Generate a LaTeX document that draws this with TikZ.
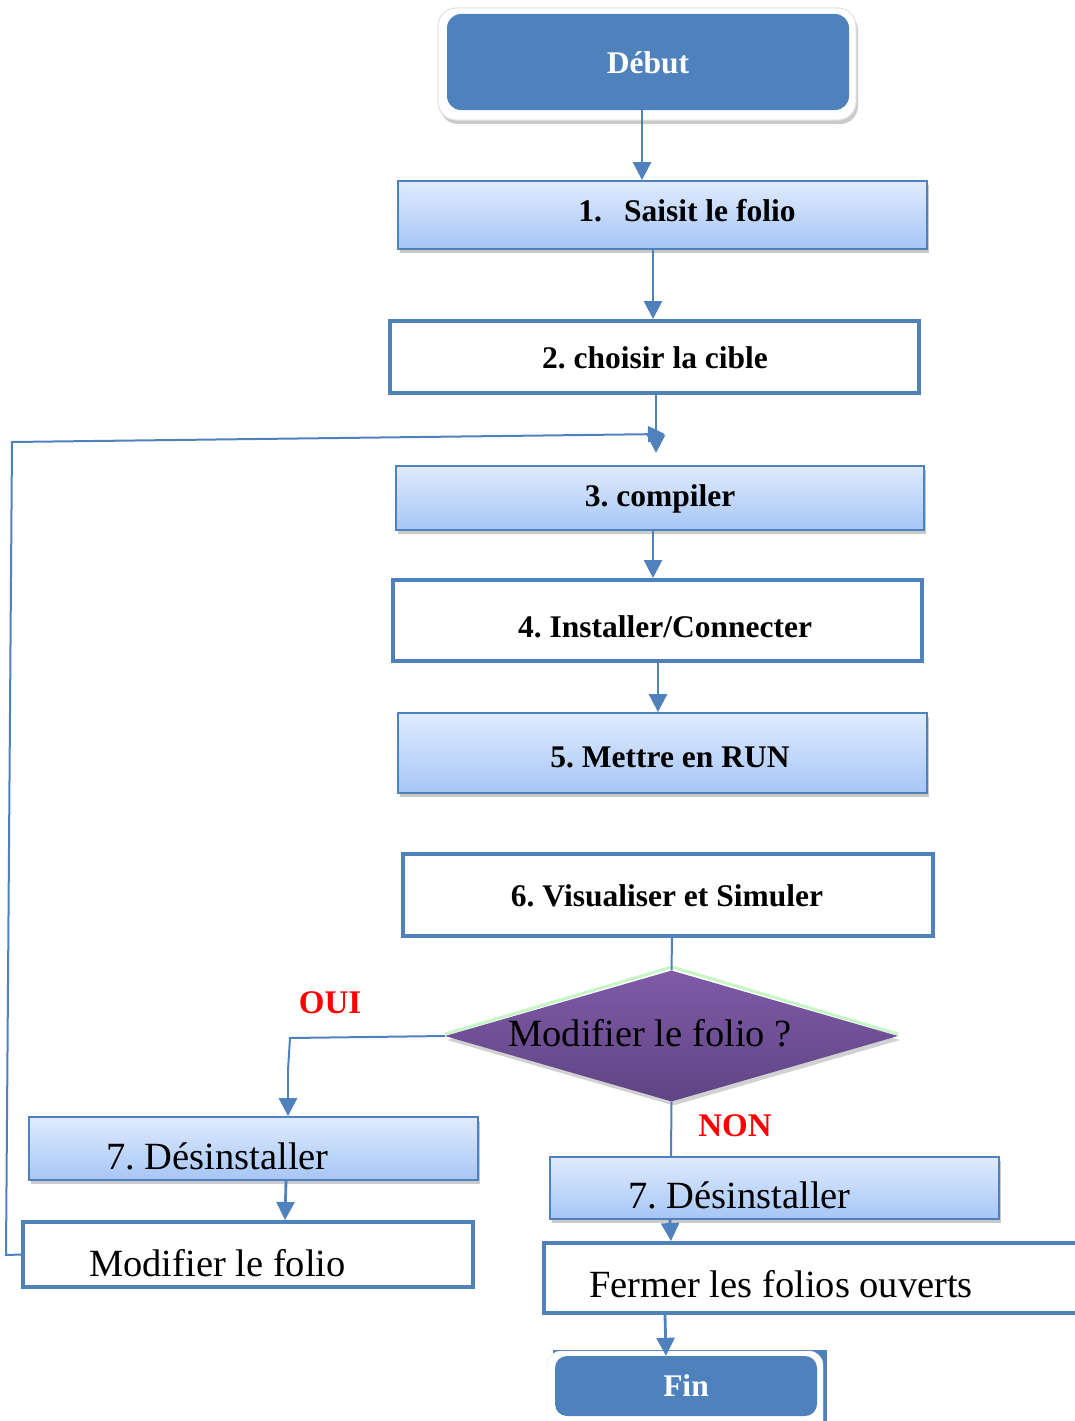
\documentclass[tikz,border=0pt]{standalone}
\usepackage{fontspec}
\setmainfont{Liberation Serif}
\usetikzlibrary{shapes.geometric,shadows,arrows.meta}
\definecolor{bl}{HTML}{4F81BD}
\definecolor{gtop}{HTML}{E0EBFD}
\definecolor{gbot}{HTML}{A6C6F6}
\definecolor{ptop}{HTML}{7F5AA6}
\definecolor{pbot}{HTML}{5F4585}
\definecolor{lgreen}{HTML}{C6F5C6}
\tikzset{
  gradbox/.style={draw=bl, line width=1.8pt, top color=gtop, bottom color=gbot, inner sep=0pt,
    drop shadow={shadow xshift=2pt, shadow yshift=-4pt, opacity=0.35, fill=black!60}},
  whitebox/.style={draw=bl, line width=4pt, fill=white, inner sep=0pt},
  conn/.style={draw=bl, line width=2.8pt, -{Triangle[width=18pt,length=18pt]}},
  plain/.style={draw=bl, line width=2pt},
  btxt/.style={font=\fontsize{31.5}{36}\selectfont\bfseries, inner sep=0pt},
  rtxt/.style={font=\fontsize{38.5}{44}\selectfont, inner sep=0pt},
  red/.style={font=\fontsize{33}{38}\selectfont\bfseries, text={rgb,255:red,255;green,0;blue,0}, inner sep=0pt}
}
\begin{document}
\frenchspacing
\begin{tikzpicture}[x=1pt,y=-1pt]
\useasboundingbox (0,0) rectangle (1075,1421);
\clip (0,0) rectangle (1075,1421);
% Debut
\node[draw=black!12, line width=1pt, fill=white, rounded corners=18pt, minimum width=418pt, minimum height=112pt, inner sep=0pt,
  drop shadow={shadow xshift=2pt, shadow yshift=-4pt, opacity=0.35, fill=black!60}] (debutout) at (647,64) {};
\node[fill=bl, rounded corners=14pt, minimum width=402pt, minimum height=96pt, inner sep=0pt] (debut) at (648,62) {};
\node[btxt, text=white] (tdebut) at (648,63) {Début};
% box 1
\node[gradbox, minimum width=529pt, minimum height=68pt] (b1) at (662.5,215) {};
\node[btxt] (t1) at (687,211) {1.\hspace{22pt}Saisit le folio};
% box 2
\node[whitebox, minimum width=529pt, minimum height=72pt] (b2) at (654.5,357) {};
\node[btxt] (t2) at (655,358) {2. choisir la cible};
% box 3
\node[gradbox, minimum width=528pt, minimum height=64pt] (b3) at (660,498) {};
\node[btxt] (t3) at (660,499) {3. compiler};
% box 4
\node[whitebox, minimum width=529pt, minimum height=81pt] (b4) at (657.5,620.5) {};
\node[btxt] (t4) at (665,627) {4. Installer/Connecter};
% box 5
\node[gradbox, minimum width=529pt, minimum height=80pt] (b5) at (662.5,753) {};
\node[btxt] (t5) at (670,757) {5. Mettre en RUN};
% box 6
\node[whitebox, minimum width=530pt, minimum height=82pt] (b6) at (668,895) {};
\node[btxt] (t6) at (667,896) {6. Visualiser et Simuler};
% diamond
\draw[lgreen, line width=3pt] (445,1034) -- (672,967) -- (898,1034);
\node[diamond, top color=ptop, bottom color=pbot, minimum width=453pt, minimum height=131pt, inner sep=0pt,
  drop shadow={shadow xshift=2pt, shadow yshift=-4pt, opacity=0.3, fill=black!60}] (dia) at (671.5,1036) {};
\node[rtxt] (tdia) at (650,1033) {Modifier le folio ?};
\node[red] (oui) at (330,1003) {OUI};
\node[red] (non) at (735,1126) {NON};
% left branch
\node[gradbox, minimum width=449pt, minimum height=63pt] (l7) at (253.5,1148.5) {};
\node[rtxt] (tl7) at (217.5,1156) {7. Désinstaller};
\node[whitebox, minimum width=450pt, minimum height=65pt] (mod) at (248,1254.5) {};
\node[rtxt] (tmod) at (217.5,1263) {Modifier le folio};
% right branch
\node[gradbox, minimum width=449pt, minimum height=62pt] (r7) at (774.5,1188) {};
\node[rtxt] (tr7) at (739.5,1195) {7. Désinstaller};
\node[whitebox, minimum width=560pt, minimum height=70pt] (ferm) at (824,1278) {};
\node[rtxt] (tferm) at (781,1284) {Fermer les folios ouverts};
% Fin
\node[fill=bl, minimum width=274pt, minimum height=80pt, inner sep=0pt] (finback) at (690,1390) {};
\node[fill=white, draw=black!10, rounded corners=14pt, minimum width=276pt, minimum height=84pt, inner sep=0pt] (finout) at (685,1393) {};
\node[fill=bl, rounded corners=12pt, minimum width=262pt, minimum height=60pt, inner sep=0pt] (fin) at (686,1386) {};
\node[btxt, text=white] (tfin) at (686,1386) {Fin};
% connectors
\coordinate (a3) at (656,453);
\coordinate (lb) at (6,1255);
\coordinate (lt) at (12,442);
\coordinate (le) at (665,434);
\coordinate (ol) at (290,1038);
\draw[conn] (debut.south -| 642,0) ++(0,-2) -- (b1.north -| 642,0);
\draw[conn] (b1.south -| 653,0) -- (b2.north -| 653,0);
\draw[conn] (b2.south -| 656,0) -- (a3);
\draw[plain, -{Triangle[width=16pt,length=17pt]}] (mod.west) -- (lb) -- (lt) -- (le);
\draw[conn] (b3.south -| 653,0) -- (b4.north -| 653,0);
\draw[conn] (b4.south -| 658,0) -- (b5.north -| 658,0);
\draw[plain] (b6.south -| 672,0) -- (dia.north);
\draw[plain] (dia.west) -- (ol) -- (288,1070) coordinate (ol2);
\draw[conn] (ol2) -- (l7.north -| 288,0);
\draw[plain] (dia.south) -- (r7.north -| 671,0);
\draw[conn] (l7.south -| 286,0) -- (mod.north -| 285,0);
\draw[conn] (r7.south -| 670,0) -- (ferm.north -| 671,0);
\draw[conn] (ferm.south -| 665,0) -- (fin.north -| 666,0);
\end{tikzpicture}
\end{document}
